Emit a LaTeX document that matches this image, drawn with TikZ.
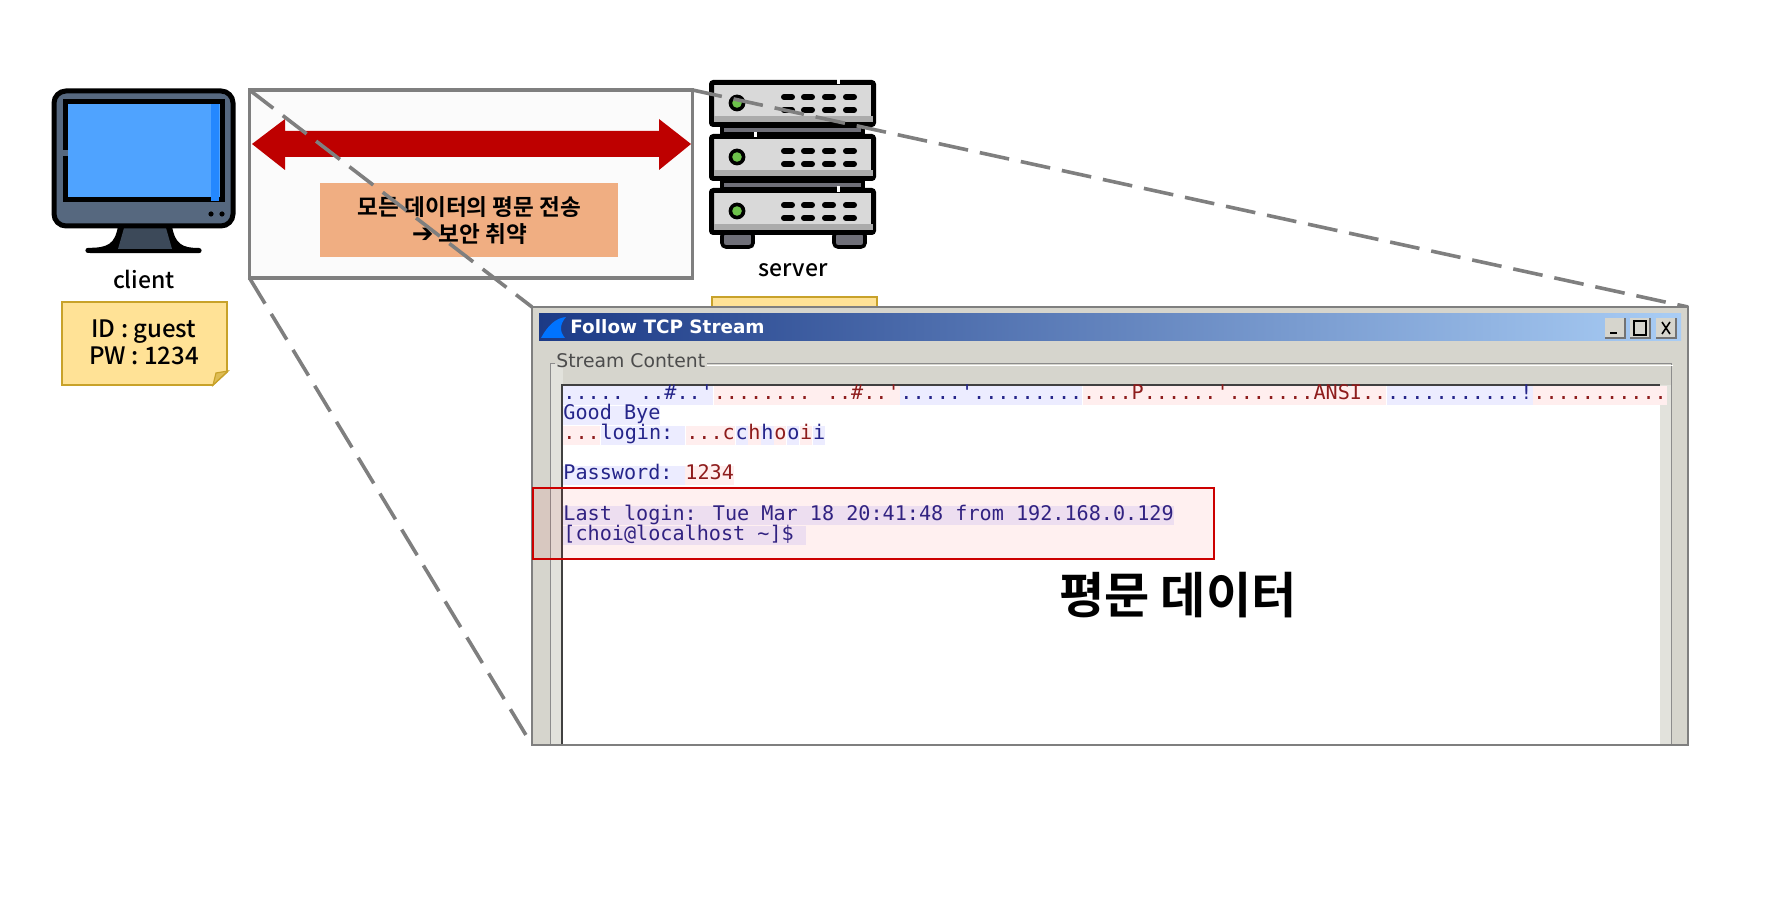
\documentclass[tikz,border=0pt]{standalone}
\usepackage{fontspec}
\usepackage{xcolor}
\usetikzlibrary{arrows.meta, positioning, calc}
\setmainfont{Noto Sans CJK KR}[UprightFont={* Medium}, BoldFont={* Bold}]
\newfontfamily\symfont{DejaVu Sans}
\newfontfamily\streamfont{DejaVu Sans Mono}
\newfontfamily\winfont{DejaVu Sans}
\definecolor{zoomgray}{HTML}{7F7F7F}
\definecolor{bodyslate}{HTML}{56687F}
\definecolor{screenblue}{HTML}{4FA3FF}
\definecolor{screenedge}{HTML}{2488FF}
\definecolor{notefill}{HTML}{FFE296}
\definecolor{noteline}{HTML}{C8A22A}
\definecolor{arrowred}{HTML}{BE0000}
\definecolor{warnfill}{HTML}{F0AE82}
\definecolor{rackgray}{HTML}{D9D9D9}
\definecolor{rackdark}{HTML}{6F6F78}
\definecolor{ledgreen}{HTML}{6DC24B}
\definecolor{winface}{HTML}{D6D5CD}
\definecolor{winstrip}{HTML}{E2E2DC}
\definecolor{titleleft}{HTML}{1C3A86}
\definecolor{titlemid}{HTML}{5F82BC}
\definecolor{titleright}{HTML}{A9CDF5}
\definecolor{streamblue}{HTML}{25258A}
\definecolor{streamred}{HTML}{8E1C1C}
\definecolor{bgblue}{HTML}{ECECFF}
\definecolor{bgred}{HTML}{FFEEEE}
\tikzset{
    label text/.style={font=\fontsize{11.5}{13.6}\selectfont, align=center, inner sep=0pt, text=black},
    zoomline/.style={draw=zoomgray, line width=1.8pt, dash pattern=on 15pt off 6pt},
    rackunit/.style={draw=black, line width=2.5pt, fill=rackgray, rounded corners=1pt},
    slot/.style={line width=3pt, line cap=round},
    seg/.style={font=\fontsize{10.07}{12}\streamfont, anchor=base west, inner sep=0pt,
        text height=7.2pt, text depth=2.4pt},
    segblue/.style={seg, fill=bgblue, text=streamblue},
    segred/.style={seg, fill=bgred, text=streamred},
    winbutton/.style={fill=winface, minimum width=10pt, minimum height=10pt,
        inner sep=0pt, anchor=north west, outer sep=0pt},
}
\begin{document}
\begin{tikzpicture}[x=.5pt, y=-.5pt]
\useasboundingbox (0,0) rectangle (1770,897);

% client
\fill[black] (118,226) -- (172,226) .. controls (175,244) and (182,248) .. (199,248)
    arc[start angle=90, end angle=-90, radius=1.3pt] -- (88,253) arc[start angle=270, end angle=90, radius=1.3pt]
    .. controls (108,248) and (115,244) .. (118,226) -- cycle;
\fill[bodyslate!70!black] (124,228) -- (166,228) -- (172,249) -- (118,249) -- cycle;
\node[draw=black, line width=2.5pt, fill=bodyslate, rounded corners=6pt, anchor=north west,
    minimum width=89.5pt, minimum height=67.5pt, outer sep=0pt] (monitor) at (54,91) {};
\node[draw=black, line width=2.5pt, fill=screenblue, anchor=north west,
    minimum width=78.5pt, minimum height=49pt, outer sep=0pt] (screen) at (65.5,101.5) {};
\fill[screenedge] (211,104) rectangle (219,201);
\fill[bodyslate] (61,150) rectangle (68,156);
\foreach \dotx in {211,222}
    \fill[black] (\dotx,214) circle[radius=1.3pt];
\node[label text] (client) at (144,279) {client};
\filldraw[fill=notefill, draw=noteline, line width=.8pt] (62,302) -- (227,302) -- (227,372) -- (213,385) -- (62,385) -- cycle;
\filldraw[fill=noteline!60!notefill, draw=noteline, line width=.6pt] (213,385) -- (216,373) -- (228,371) -- cycle;
\node[label text, font=\fontsize{12}{13.6}\selectfont] (clientid) at (144,342) {ID : guest\\PW : 1234};

% plain text channel
\node[draw=zoomgray, line width=1.8pt, fill=black!1.5, anchor=north west, outer sep=0pt,
    minimum width=221.5pt, minimum height=94pt] (zoombox) at (249.5,90) {};
\coordinate (tipl) at (252,144);
\coordinate (tipr) at (691,144);
\fill[arrowred] (tipl) -- (285,119) -- (285,131) -- (659,131) -- (659,119) -- (tipr)
    -- (659,170) -- (659,157) -- (285,157) -- (285,170) -- cycle;
\node[fill=warnfill, minimum width=149pt, minimum height=37pt, inner sep=0pt, anchor=north west] (warn) at (320,183) {};
\node[label text, font=\fontsize{11.3}{13.6}\selectfont\bfseries] (warntext) at (warn.center) {모든 데이터의 평문 전송\\{\symfont\fontsize{13}{13.6}\selectfont\char"2794} 보안 취약};

% server
\fill[notefill] (712,297) rectangle (877,310);
\draw[noteline, line width=.8pt] (712,310) -- (712,297) -- (877,297) -- (877,310);
\foreach \unit in {126,181}
    \filldraw[fill=rackdark, draw=black, line width=1.6pt] (722,\unit) rectangle (863,\unit+8);
\foreach \footx in {722,834}
    \filldraw[fill=rackdark, draw=black, line width=1.8pt, rounded corners=2pt] (\footx,232) rectangle (\footx+31,247);
\foreach \unit in {80,134,188}{
    \node[rackunit, anchor=north west, minimum width=81pt, minimum height=21pt, outer sep=0pt] (rack\unit) at (711.5,\unit+2.5) {};
    \fill[black!33] (714,\unit+36) rectangle (873,\unit+42);
    \fill[black] (737,\unit+23) circle[radius=4.2pt];
    \fill[ledgreen] (737,\unit+23) circle[radius=2.4pt];
    \foreach \slotx in {784,804,825,846}
        \foreach \sloty in {17,30}
            \draw[slot] (\slotx,\unit+\sloty) -- (\slotx+8,\unit+\sloty);
}
\fill[white] (837,78) rectangle (840,84);
\fill[white] (754,132) rectangle (757,137);
\fill[white] (837,186) rectangle (840,192);
\node[label text] (server) at (793,270) {server};

% follow tcp stream window
\draw[zoomline] (zoombox.north east) -- (1688,307) coordinate (zoomne);
\draw[zoomline] (zoombox.north west) -- (532,307) coordinate (zoomnw);
\draw[zoomline] (zoombox.south west) -- (532,745) coordinate (zoomsw);
\node[draw=zoomgray, line width=1.3pt, fill=winface, anchor=north west, outer sep=0pt,
    minimum width=578pt, minimum height=219pt] (tcpwin) at (532,307) {};
\shade[left color=titleleft, middle color=titlemid, right color=titleright] (539,314) rectangle (1681,341);
\fill[blue!55!cyan] (541,338) .. controls (548,325) and (556,318) .. (566,317) .. controls (560,324) and (559,331) .. (565,338) -- cycle;
\node[font=\fontsize{9.2}{11}\winfont\bfseries, text=white, anchor=base west, inner sep=0pt] (wintitle) at (570,334) {Follow TCP Stream};
\node[winbutton] (winmin) at (1605,318) {};
\node[winbutton] (winmax) at (1630,318) {};
\node[winbutton] (winclose) at (1656,318) {};
\foreach \btn in {winmin,winmax,winclose}
    \draw[black!55, line width=.7pt] (\btn.south west) -- (\btn.south east) -- (\btn.north east);
\draw[black, line width=1.1pt] ($(winmin.south west)+(5,-5)$) -- ($(winmin.south west)+(12,-5)$);
\draw[black, line width=.7pt] ($(winmax.north west)+(4,3)$) rectangle ($(winmax.south east)+(-4,-3)$);
\draw[black, line width=.8pt] ($(winclose.north west)+(6,4)$) -- ($(winclose.south east)+(-6,-4)$);
\draw[black, line width=.8pt] ($(winclose.north east)+(-6,4)$) -- ($(winclose.south west)+(6,-4)$);
\fill[winstrip] (550,364) rectangle (563,744);
\fill[winstrip] (1660,385) rectangle (1671,744);
\draw[black!45, line width=.5pt] (707,364) -- (1671,364) -- (1671,744);
\draw[black!45, line width=.5pt] (555,364) -- (550,364) -- (550,744);
\draw[white, line width=.5pt] (707,366) -- (1673,366);
\node[font=\fontsize{9.4}{11}\winfont, text=black!70, anchor=base west, inner sep=0pt] (streamtitle) at (556,368) {Stream Content};

% stream text
\node[fill=white, anchor=north west, minimum width=549pt, minimum height=179.5pt, inner sep=0pt, outer sep=0pt] (streamarea) at (562,385) {};
\draw[black!75, line width=1.2pt] (streamarea.south west) -- (streamarea.north west) -- (streamarea.north east);
\node[segblue] (a1) at (563,400) {..... ..\#..'};
\node[segred] (a2) at (a1.base east) {........ ..\#..'};
\node[segblue] (a3) at (a2.base east) {.....'.........};
\node[segred] (a4) at (a3.base east) {....P......'.......ANSI..};
\node[segblue] (a5) at (a4.base east) {...........!};
\node[segred] (a6) at (a5.base east) {...........};
\node[segblue] (b1) at (563,420) {Good Bye};
\node[segred] (c1) at (563,440) {...};
\node[segblue] (c2) at (c1.base east) {login:\ \null};
\node[segred] (c3) at (c2.base east) {...c};
\node[segblue] (c4) at (c3.base east) {c};
\node[segred] (c5) at (c4.base east) {h};
\node[segblue] (c6) at (c5.base east) {h};
\node[segred] (c7) at (c6.base east) {o};
\node[segblue] (c8) at (c7.base east) {o};
\node[segred] (c9) at (c8.base east) {i};
\node[segblue] (c10) at (c9.base east) {i};
\node[segblue] (d1) at (563,480) {Password:\ \null};
\node[segred] (d2) at (d1.base east) {1234};
\node[segblue] (e1) at (563,520) {Last login: Tue Mar 18 20:41:48 from 192.168.0.129};
\node[segblue] (f1) at (563,540) {[choi@localhost \string~]\$\ \null};

% highlight
\node[draw=red!80!black, line width=.9pt, fill=red, fill opacity=.06, draw opacity=1, anchor=north west,
    minimum width=340.5pt, minimum height=35.5pt, outer sep=0pt] (plainbox) at (533,488) {};
\node[font=\fontsize{24.6}{28}\selectfont\bfseries, inner sep=0pt] (plainlabel) at (1178,595) {평문 데이터};
\end{tikzpicture}
\end{document}
